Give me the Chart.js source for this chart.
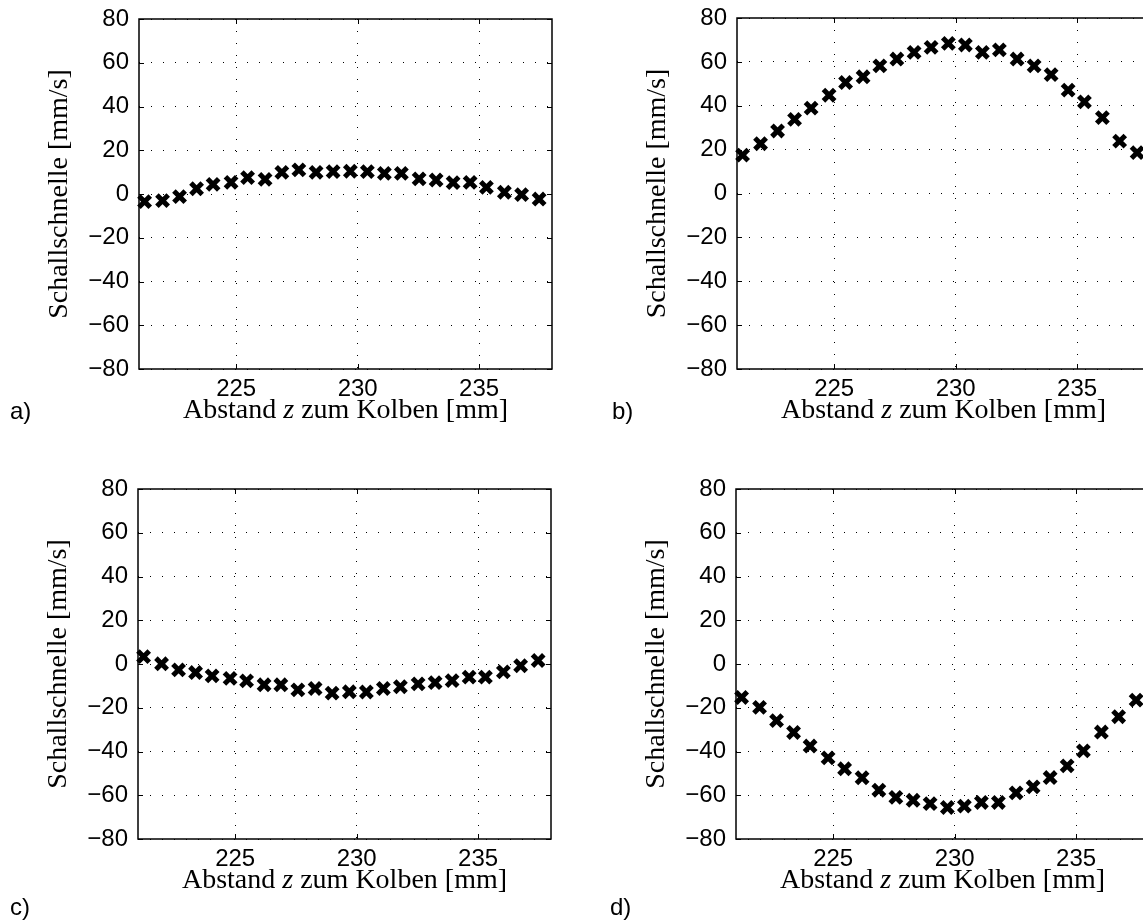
<!DOCTYPE html>
<html>
<head>
<meta charset="utf-8">
<title>Schallschnelle</title>
<script src="https://cdn.jsdelivr.net/npm/chart.js@4.4.1/dist/chart.umd.min.js"></script>
<style>
  html, body { margin: 0; padding: 0; background: #fff; overflow: hidden; }
  .panel { position: absolute; }
</style>
</head>
<body>
<div class="panel" style="left:0;top:-20px"><canvas id="chartA" width="580" height="480"></canvas></div>
<div class="panel" style="left:580px;top:-20px"><canvas id="chartB" width="600" height="480"></canvas></div>
<div class="panel" style="left:0;top:460px"><canvas id="chartC" width="580" height="461"></canvas></div>
<div class="panel" style="left:580px;top:460px"><canvas id="chartD" width="600" height="461"></canvas></div>
<script>
// measurement positions (mm) shared by all four panels
const zPositions = [221.23, 221.97, 222.67, 223.37, 224.05, 224.79, 225.47, 226.19, 226.88, 227.58, 228.29, 228.99,
                    229.70, 230.40, 231.10, 231.80, 232.53, 233.23, 233.93, 234.63, 235.30, 236.04, 236.75, 237.47];

// sound particle velocity (mm/s)
const velocityA = [-3.5, -3.0, -1.2, 2.4, 4.4, 5.3, 7.5, 6.7, 9.9, 11.0, 9.9, 10.2,
                   10.4, 10.2, 9.4, 9.4, 6.9, 6.4, 5.2, 5.3, 3.0, 0.8, -0.3, -2.3];
const velocityB = [17.5, 22.7, 28.5, 33.8, 38.9, 44.8, 50.6, 53.2, 58.2, 61.3, 64.3, 66.6,
                   68.4, 67.7, 64.3, 65.5, 61.3, 58.2, 54.2, 47.1, 41.8, 34.6, 23.9, 18.6];
const velocityC = [3.4, 0.1, -2.7, -3.9, -5.4, -6.6, -7.7, -9.5, -9.5, -11.8, -11.2, -13.3,
                   -12.7, -12.8, -11.2, -10.4, -9.1, -8.5, -7.6, -6.0, -6.0, -3.6, -0.8, 1.6];
const velocityD = [-15.3, -19.8, -25.9, -31.3, -37.5, -42.9, -47.9, -52.0, -57.7, -61.0, -62.3, -63.8,
                   -65.6, -65.0, -63.3, -63.3, -58.9, -56.2, -51.9, -46.6, -39.7, -31.1, -24.1, -16.5];

const zTicks = [225, 230, 235];
const velocityTicks = [-80, -60, -40, -20, 0, 20, 40, 60, 80];
const zRange = [221, 238];
const velocityRange = [-80, 80];

// layout of each panel (canvas-local pixels)
const panels = [
  { id: 'chartA', values: velocityA, letter: 'a)', area: { left: 139, right: 552, top: 39, bottom: 389 }, letterAt: [10, 432] },
  { id: 'chartB', values: velocityB, letter: 'b)', area: { left: 157, right: 570, top: 38, bottom: 389 }, letterAt: [32, 432] },
  { id: 'chartC', values: velocityC, letter: 'c)', area: { left: 138, right: 551, top: 29, bottom: 379 }, letterAt: [10, 448] },
  { id: 'chartD', values: velocityD, letter: 'd)', area: { left: 156, right: 569, top: 29, bottom: 379 }, letterAt: [30, 448] }
];

const sansFont = '"Liberation Sans", Arial, sans-serif';
const serifFont = '"Liberation Serif", "Times New Roman", serif';
const titleSize = 28;

// box, inward ticks, axis titles with italic z, panel letter
const axesFrame = {
  id: 'axesFrame',
  afterDraw(chart, args, opts) {
    const { ctx, chartArea: a, scales } = chart;
    ctx.save();
    ctx.strokeStyle = '#000';
    ctx.lineWidth = 1;
    ctx.beginPath();
    scales.x.ticks.forEach(t => {
      const px = Math.round(scales.x.getPixelForValue(t.value)) + 0.5;
      ctx.moveTo(px, a.bottom); ctx.lineTo(px, a.bottom - 5);
      ctx.moveTo(px, a.top); ctx.lineTo(px, a.top + 5);
    });
    scales.y.ticks.forEach(t => {
      const py = Math.round(scales.y.getPixelForValue(t.value)) + 0.5;
      ctx.moveTo(a.left, py); ctx.lineTo(a.left + 5, py);
      ctx.moveTo(a.right, py); ctx.lineTo(a.right - 5, py);
    });
    ctx.stroke();
    ctx.lineWidth = 1.5;
    ctx.strokeRect(a.left, a.top, a.right - a.left, a.bottom - a.top);

    ctx.fillStyle = '#000';
    ctx.textBaseline = 'middle';
    ctx.textAlign = 'left';
    const f = titleSize + 'px ' + serifFont;
    const parts = [['Abstand ', f], ['z', 'italic ' + f], [' zum Kolben [mm]', f]];
    let total = 0;
    parts.forEach(p => { ctx.font = p[1]; total += ctx.measureText(p[0]).width; });
    let x = (a.left + a.right) / 2 - total / 2;
    const ty = a.bottom + 42;
    parts.forEach(p => { ctx.font = p[1]; ctx.fillText(p[0], x, ty); x += ctx.measureText(p[0]).width; });

    ctx.save();
    ctx.translate(a.left - 79, (a.top + a.bottom) / 2);
    ctx.rotate(-Math.PI / 2);
    ctx.textAlign = 'center';
    ctx.font = f;
    ctx.fillText('Schallschnelle [mm/s]', 0, 0);
    ctx.restore();

    ctx.font = '24px ' + sansFont;
    ctx.textAlign = 'left';
    ctx.fillText(opts.letter, opts.at[0], opts.at[1]);
    ctx.restore();
  }
};

panels.forEach(p => {
  const canvas = document.getElementById(p.id);
  const W = canvas.width, H = canvas.height;
  new Chart(canvas, {
    type: 'scatter',
    data: {
      datasets: [{
        data: zPositions.map((z, i) => ({ x: z, y: p.values[i] })),
        pointStyle: 'crossRot',
        pointRadius: 8,
        pointBorderWidth: 5,
        borderColor: '#000',
        backgroundColor: '#000',
        showLine: false,
        clip: false
      }]
    },
    options: {
      responsive: false,
      animation: false,
      layout: { padding: { top: p.area.top, right: W - p.area.right, left: 0, bottom: 0 } },
      plugins: {
        legend: { display: false },
        tooltip: { enabled: false },
        axesFrame: { letter: p.letter, at: p.letterAt }
      },
      scales: {
        x: {
          type: 'linear',
          min: zRange[0],
          max: zRange[1],
          afterBuildTicks: s => { s.ticks = zTicks.map(v => ({ value: v })); },
          afterFit: s => { s.height = H - p.area.bottom; },
          grid: { color: '#000', lineWidth: 1, drawTicks: false },
          border: { display: false, dash: [1, 11] },
          ticks: { color: '#000', font: { family: sansFont, size: 24 }, padding: 6, maxRotation: 0, autoSkip: false }
        },
        y: {
          type: 'linear',
          min: velocityRange[0],
          max: velocityRange[1],
          afterBuildTicks: s => { s.ticks = velocityTicks.map(v => ({ value: v })); },
          afterFit: s => { s.width = p.area.left; },
          grid: { color: '#000', lineWidth: 1, drawTicks: false },
          border: { display: false, dash: [1, 11] },
          ticks: {
            color: '#000',
            font: { family: sansFont, size: 24 },
            padding: 10,
            autoSkip: false,
            callback: v => v < 0 ? '\u2212' + Math.abs(v) : String(v)
          }
        }
      }
    },
    plugins: [axesFrame]
  });
});
</script>
</body>
</html>
